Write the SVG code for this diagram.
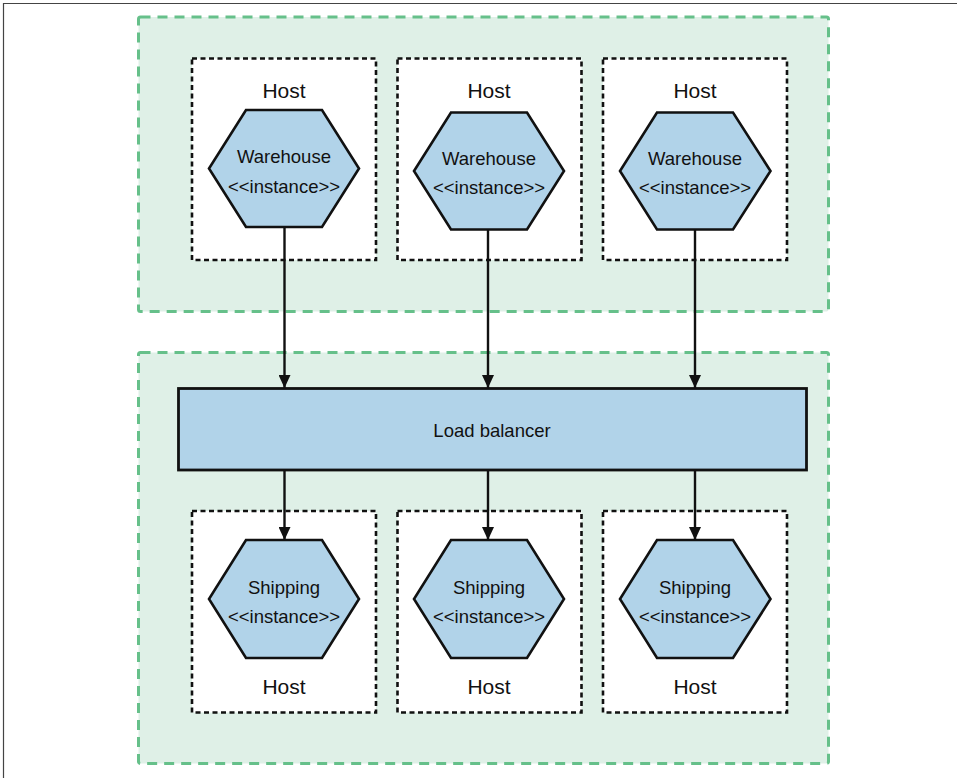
<svg xmlns="http://www.w3.org/2000/svg" width="957" height="778" viewBox="0 0 957 778">
<defs>
<style>
.zone{fill:#dff0e7;stroke:#66c08a;stroke-width:3;stroke-dasharray:10 7}
.host{fill:#ffffff;stroke:#111;stroke-width:2.6;stroke-dasharray:5 3.5}
.hex{fill:#b1d3e9;stroke:#111;stroke-width:2.6;stroke-linejoin:miter}
.lb{fill:#b1d3e9;stroke:#111;stroke-width:2.8}
.t{font-family:"Liberation Sans",Arial,sans-serif;fill:#111;text-anchor:middle}
.h{font-size:21px}
.n{font-size:18.5px}
.conn line{stroke:#111;stroke-width:2.4}
</style>
<marker id="arr" viewBox="0 0 13 12" refX="13" refY="6" markerWidth="13" markerHeight="12" markerUnits="userSpaceOnUse" orient="auto">
<path d="M0,0 L13,6 L0,12 Z" fill="#111"/>
</marker>
</defs>
<rect width="957" height="778" fill="#ffffff"/>
<path d="M3.5,778 V3.5 H957" fill="none" stroke="#444" stroke-width="1.2"/>

<g id="zone-warehouse"><rect class="zone" x="138.5" y="17" width="690" height="294.5" rx="2"/></g>
<g id="zone-shipping"><rect class="zone" x="138.5" y="352.5" width="690" height="411" rx="2"/></g>

<g id="host-w1">
<rect class="host" x="192" y="58.5" width="184" height="201.5"/>
<text class="t h" x="284" y="98">Host</text>
</g>
<g id="host-w2">
<rect class="host" x="397.5" y="58.5" width="184" height="201.5"/>
<text class="t h" x="489" y="98">Host</text>
</g>
<g id="host-w3">
<rect class="host" x="603" y="58.5" width="184" height="201.5"/>
<text class="t h" x="695" y="98">Host</text>
</g>

<g id="warehouse-1">
<polygon class="hex" points="246,110 322,110 359,168.5 322,227 246,227 209,168.5"/>
<text class="t n" x="284" y="163">Warehouse</text>
<text class="t n" x="284" y="193">&lt;&lt;instance&gt;&gt;</text>
</g>
<g id="warehouse-2">
<polygon class="hex" points="451,112.5 527,112.5 564,171 527,229.5 451,229.5 414,171"/>
<text class="t n" x="489" y="165">Warehouse</text>
<text class="t n" x="489" y="194">&lt;&lt;instance&gt;&gt;</text>
</g>
<g id="warehouse-3">
<polygon class="hex" points="657,112.5 733,112.5 770.5,171 733,229.5 657,229.5 620,171"/>
<text class="t n" x="695" y="165">Warehouse</text>
<text class="t n" x="695" y="194">&lt;&lt;instance&gt;&gt;</text>
</g>

<g id="load-balancer">
<rect class="lb" x="178.5" y="388.5" width="628" height="81.5"/>
<text class="t n" x="492" y="437">Load balancer</text>
</g>

<g id="host-s1">
<rect class="host" x="192" y="511" width="184" height="201.5"/>
<text class="t h" x="284" y="694">Host</text>
</g>
<g id="host-s2">
<rect class="host" x="397.5" y="511" width="184" height="201.5"/>
<text class="t h" x="489" y="694">Host</text>
</g>
<g id="host-s3">
<rect class="host" x="603" y="511" width="184" height="201.5"/>
<text class="t h" x="695" y="694">Host</text>
</g>

<g id="shipping-1">
<polygon class="hex" points="246,540 322,540 359,599 322,658 246,658 209,599"/>
<text class="t n" x="284" y="594">Shipping</text>
<text class="t n" x="284" y="623">&lt;&lt;instance&gt;&gt;</text>
</g>
<g id="shipping-2">
<polygon class="hex" points="451,540 527,540 564,599 527,658 451,658 414,599"/>
<text class="t n" x="489" y="594">Shipping</text>
<text class="t n" x="489" y="623">&lt;&lt;instance&gt;&gt;</text>
</g>
<g id="shipping-3">
<polygon class="hex" points="657,540 733,540 770.5,599 733,658 657,658 620,599"/>
<text class="t n" x="695" y="594">Shipping</text>
<text class="t n" x="695" y="623">&lt;&lt;instance&gt;&gt;</text>
</g>

<g id="connectors" class="conn">
<line x1="284.5" y1="227" x2="284.5" y2="388" marker-end="url(#arr)"/>
<line x1="488" y1="229.5" x2="488" y2="388" marker-end="url(#arr)"/>
<line x1="695" y1="229.5" x2="695" y2="388" marker-end="url(#arr)"/>
<line x1="284.5" y1="470" x2="284.5" y2="540" marker-end="url(#arr)"/>
<line x1="488" y1="470" x2="488" y2="540" marker-end="url(#arr)"/>
<line x1="695" y1="470" x2="695" y2="540" marker-end="url(#arr)"/>
</g>
</svg>
